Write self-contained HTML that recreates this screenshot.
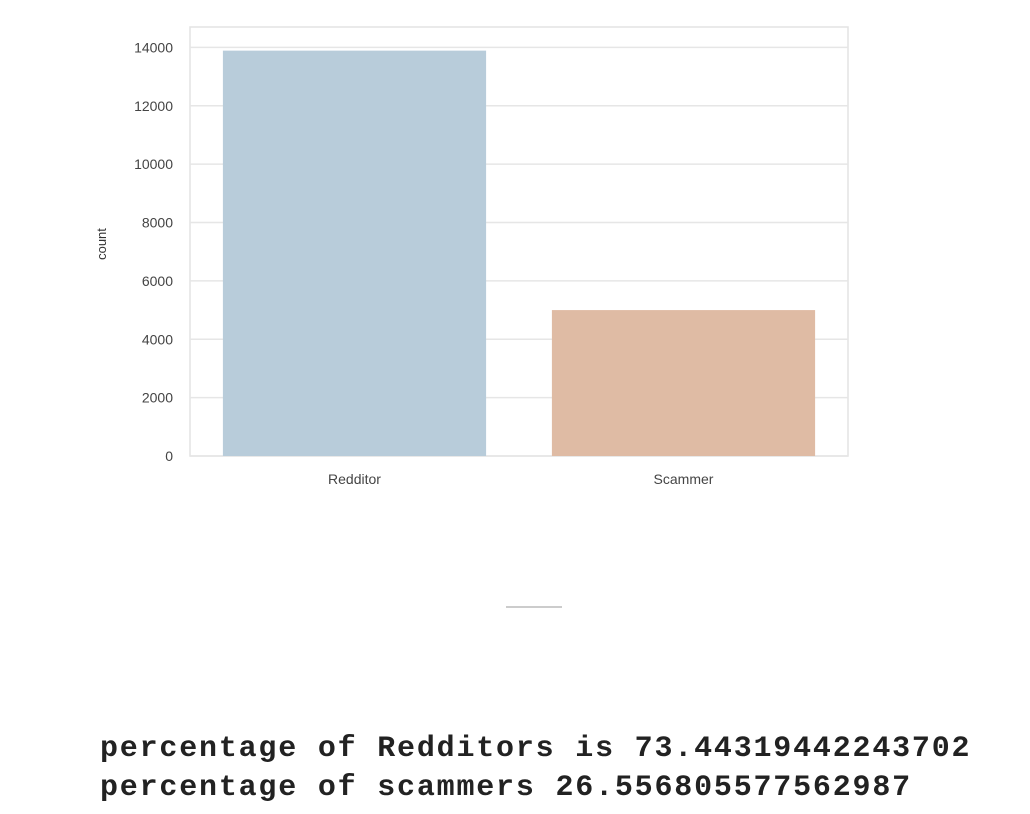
<!DOCTYPE html>
<html><head><meta charset="utf-8"><style>
body{margin:0;width:1030px;height:814px;background:#fff;overflow:hidden;font-family:"Liberation Sans",sans-serif}
#out{position:absolute;left:100px;top:730px;font-family:"Liberation Mono",monospace;font-weight:bold;font-size:30px;letter-spacing:1.8px;line-height:39px;color:#222;white-space:pre}
</style></head><body>
<svg id="chart" width="1030" height="620" style="position:absolute;left:0;top:0"></svg>
<div style="position:absolute;left:506px;top:606px;width:56px;height:2px;background:#ccc"></div>
<div id="out">percentage of Redditors is 73.44319442243702
percentage of scammers 26.556805577562987</div>
<script>
const categories=["Redditor","Scammer"];
const counts=[13890,5000];
const colors=["#b8ccda","#dfbba4"];
const yTicks=[0,2000,4000,6000,8000,10000,12000,14000];
const svg=document.getElementById('chart');
const NS='http://www.w3.org/2000/svg';
const L=190,R=848,T=27,B=456,yMax=14700;
function y(v){return B-(v/yMax)*(B-T);}
function band(i){const w=(R-L)/categories.length;return L+w*i;}
function mk(t,a){const e=document.createElementNS(NS,t);for(const k in a)e.setAttribute(k,a[k]);svg.appendChild(e);return e;}
let bg=mk('rect',{x:L,y:T,width:R-L,height:B-T,fill:'#fff',stroke:'#e3e3e3','stroke-width':1.5});


yTicks.forEach(v=>{
 const g=mk('line',{x1:L,x2:R,y1:y(v),y2:y(v),stroke:'#e6e6e6','stroke-width':1.5});
 
 
 const t=mk('text',{x:L-17,y:y(v)+5,'text-anchor':'end','font-size':14,fill:'#444'});
 t.textContent=v;
 
 
});
const bw=(R-L)/categories.length;
categories.forEach((c,i)=>{
 const x0=band(i)+bw*0.1;
 const b=mk('rect',{x:x0,y:y(counts[i]),width:bw*0.8,height:B-y(counts[i]),fill:colors[i]});
 
 
 const t=mk('text',{x:band(i)+bw/2,y:B+28,'text-anchor':'middle','font-size':14,fill:'#444'});
 t.textContent=c;
 
 
});
const yt=mk('text',{x:0,y:0,'font-size':13,fill:'#333','text-anchor':'middle',transform:'translate(106,244) rotate(-90)'});
yt.textContent='count';


</script>
</body></html>
